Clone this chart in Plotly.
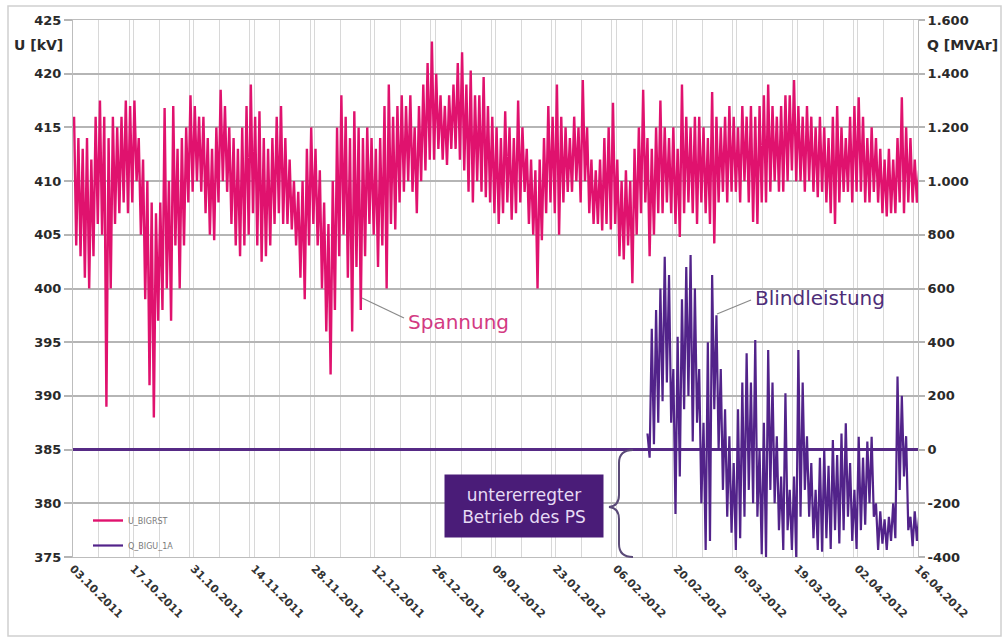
import pandas as pd
import plotly.graph_objects as go

# ---------------------------------------------------------------- data
START = "2011-10-03"
END = "2012-04-16"
SAMPLE_HOURS = [6, 18]          # time stamps of the daily high / daily low sample

# voltage U_BIGRST, daily high and daily low [kV], one entry per day from START
U_DAILY_MAX = [
    416, 414, 413, 414, 412, 416, 417.5, 416, 414,
    416, 415, 416, 417.5, 417, 417.5, 414,
    412, 410, 408, 407, 408, 416.8, 410, 417,
    413, 414, 415, 418, 417, 416, 416, 414, 413, 415, 418.5, 417, 415, 414, 413,
    415, 417, 419, 416, 416.5, 414, 413, 414, 416, 417, 414, 412, 410, 409, 410,
    413, 415, 413, 411, 408, 406, 410, 415, 418, 416, 414, 416.5, 415, 414, 415,
    414, 413, 414, 417, 419, 416, 417, 418, 417, 418,
    415, 417, 419, 421, 423, 420, 418, 417, 418, 419, 421, 422, 419, 420.3, 418,
    418, 419.7, 417, 416, 415, 414, 416.5, 415, 414, 417.5, 415, 413, 412, 411,
    412, 414, 417, 416, 419, 416, 415, 414, 416, 415,
    419.4, 415, 412, 411, 412, 414, 415, 417.3, 412, 410, 411, 410, 413, 415,
    418.5, 414, 413, 415, 417.5, 415, 414, 415, 413, 419, 416, 415, 416, 416,
    415, 414, 418.3, 416, 415, 416, 417, 416, 415, 417, 416,
    417, 416, 417, 418, 419, 417, 416, 417, 418, 418, 419.4, 417, 416, 417, 416,
    415, 416, 415, 414, 416, 417, 415, 414, 416, 417, 417.8, 416, 414, 415, 414,
    413, 412, 413, 412, 414, 417.8, 415, 414, 412, 411,
]
U_DAILY_MIN = [
    404, 403, 401, 400, 403, 406, 405, 389, 400,
    406, 407, 408, 407, 408, 410, 405,
    399, 391, 388, 397, 398, 400, 397, 404,
    400, 404, 408, 409, 410, 409, 407, 405, 404.5, 408, 410, 409, 406, 404, 403,
    404, 405, 407, 404, 402.5, 403, 404, 406, 407, 406, 406, 405.5, 404, 401, 399,
    404, 406, 404, 400, 396, 392, 398, 403, 405, 401, 396, 402, 398, 403, 406,
    405, 402, 404, 400, 406, 405.5, 408, 409, 410, 409,
    407, 410, 411, 412, 412, 413, 412, 411.5, 413, 413, 412, 411, 409, 408, 410,
    409, 408.5, 408, 407, 406, 407, 408, 406.4, 407, 408, 409, 406, 405, 400,
    404.5, 407, 408, 407, 405, 408, 409, 409, 410, 408,
    410, 407, 406, 406, 405.4, 406, 405.5, 406, 403, 402.7, 404, 400.5, 405, 407,
    408, 403, 405, 407, 407, 408, 407, 406, 404.8, 407, 408, 407, 406, 408,
    407, 406, 404.2, 408, 409, 408, 409, 409, 408, 410, 408,
    406.2, 406, 408, 408, 409, 410, 409, 409, 410, 411, 410, 410, 409, 410, 409,
    408.5, 409, 408, 407, 406, 408, 409, 409, 408, 409, 409, 408, 408, 409, 408,
    407, 406.7, 407, 407, 408, 407, 408, 408, 408, 408,
]

# reactive power Q_BIGU_1A, daily high and daily low [MVAr], from Q_FIRST_DAY
Q_FIRST_DAY = "2012-02-13"
Q_DAILY_MAX = [
    60, 450, 520, 600, 718, 650, 300, 420, 560, 680, 725, 600, 300, 100, 400, 650,
    500, 300, 150, 50, -50, 150, 250, 359, 250, 408, 0, 100, 371, 250, 50, -100,
    210, -150, -100, 371, 250, 50, -50, -150, -30, 0, -60, 36, -20, 60, 98, -50,
    -150, 48, -30, 30, 48, -200, -230, -260, -250, -200, 272, 200, 50, -250, -230, -250,
]
Q_DAILY_MIN = [
    -30, 20, 100, 180, 250, 100, -240, -100, 150, 200, 30, 100, -200, -374, -340, 150,
    0, -150, -250, -310, -374, -330, -250, -150, -200, -250, -390, -400, -150, -200, -300, -374,
    -300, -374, -400, -250, -150, -250, -330, -374, -380, -330, -370, -300, -350, -300, -250, -340,
    -370, -300, -280, -200, -250, -374, -350, -374, -340, -330, -150, -100, -300, -360, -340, -320,
]

U_TICKS = [375, 380, 385, 390, 395, 400, 405, 410, 415, 420, 425]
Q_TICKS = [-400, -200, 0, 200, 400, 600, 800, 1000, 1200, 1400, 1600]
Q_TICK_LABELS = ["-400", "-200", "0", "200", "400", "600", "800",
                 "1.000", "1.200", "1.400", "1.600"]

# ---------------------------------------------------------------- styling
MAGENTA = "#E0126E"
PURPLE = "#52238A"
W, H = 1003, 639
M_L, M_R, M_T, M_B = 73, 85, 20, 82
TICK_FONT = dict(family="DejaVu Sans", size=13, color="#2A2A2A", weight="bold")
TITLE_FONT = dict(family="DejaVu Sans", size=14, color="#2A2A2A", weight="bold")
LABEL_FONT = "DejaVu Sans"


def paper(px, py):
    """Pixel position in the page -> paper coordinates of the plot area."""
    pw, ph = W - M_L - M_R, H - M_T - M_B
    return (px - M_L) / pw, (H - M_B - py) / ph


def zigzag(first, highs, lows):
    """Alternate the daily high and low samples along a time axis."""
    base = pd.Timestamp(first)
    xs, ys = [], []
    for i, (hi, lo) in enumerate(zip(highs, lows)):
        day = base + pd.Timedelta(days=i)
        xs += [day + pd.Timedelta(hours=SAMPLE_HOURS[0]),
               day + pd.Timedelta(hours=SAMPLE_HOURS[1])]
        ys += [hi, lo]
    return xs, ys


ux, uy = zigzag(START, U_DAILY_MAX, U_DAILY_MIN)
qx, qy = zigzag(Q_FIRST_DAY, Q_DAILY_MAX, Q_DAILY_MIN)

fig = go.Figure()
fig.add_trace(go.Scatter(x=ux, y=uy, mode="lines", name="U_BIGRST",
                         line=dict(color=MAGENTA, width=2.4), legendgroup="u"))
fig.add_trace(go.Scatter(x=qx, y=qy, mode="lines", name="Q_BIGU_1A", yaxis="y2",
                         line=dict(color=PURPLE, width=2.2), legendgroup="q"))

DAY_MS = 86400000
fig.update_layout(
    width=W, height=H,
    margin=dict(l=M_L, r=M_R, t=M_T, b=M_B),
    paper_bgcolor="white", plot_bgcolor="white",
    font=dict(family="DejaVu Sans", color="#222"),
    xaxis=dict(
        type="date", range=[START, END],
        tick0=START, dtick=14 * DAY_MS, tickformat="%d.%m.%Y", tickangle=45,
        tickfont=dict(family="DejaVu Sans", size=11, color="#333", weight="bold"),
        showgrid=True, gridcolor="#D8D8D8", gridwidth=1.2,
        minor=dict(dtick=7 * DAY_MS, showgrid=True, gridcolor="#D8D8D8", gridwidth=1.2),
        showline=True, linecolor="#BDBDBD", mirror=True, zeroline=False,
    ),
    yaxis=dict(
        range=[375, 425], tickvals=U_TICKS, tickfont=TICK_FONT,
        showgrid=True, gridcolor="#B5B5B5", gridwidth=1.5,
        ticks="outside", ticklen=8, tickcolor="#B5B5B5", tickwidth=1.5,
        showline=True, linecolor="#BDBDBD", mirror=True, zeroline=False,
    ),
    yaxis2=dict(
        overlaying="y", side="right", range=[-400, 1600],
        tickvals=Q_TICKS, ticktext=Q_TICK_LABELS, tickfont=TICK_FONT,
        showgrid=False, ticks="outside", ticklen=6, tickcolor="#B5B5B5", tickwidth=1.5,
        zeroline=True, zerolinecolor="#562A85", zerolinewidth=2.5,
    ),
    showlegend=True,
    legend=dict(x=paper(88, 0)[0], y=paper(0, 506)[1], xanchor="left", yanchor="top",
                font=dict(size=8, color="#7A7A7A"), bgcolor="rgba(0,0,0,0)",
                tracegroupgap=6, itemwidth=30),
)


def note(text, px, py, **kw):
    x, y = paper(px, py)
    fig.add_annotation(text=text, x=x, y=y, xref="paper", yref="paper", showarrow=False,
                       xanchor="center", yanchor="middle", **kw)


# axis titles above the top tick labels
note("U [kV]", 38, 45, font=TITLE_FONT)
note("Q [MVAr]", 962, 45, font=TITLE_FONT)

# series call-outs with leader lines
note("Spannung", 458, 322, font=dict(size=20, color="#D33A82", family=LABEL_FONT))
note("Blindleistung", 820, 298, font=dict(size=20, color="#4E2E78", family=LABEL_FONT))
for (ax0, ay0), (ax1, ay1) in [((362, 298), (404, 318)), ((717, 314), (751, 300))]:
    x0, y0 = paper(ax0, ay0)
    x1, y1 = paper(ax1, ay1)
    fig.add_shape(type="line", xref="paper", yref="paper", x0=x0, y0=y0, x1=x1, y1=y1,
                  line=dict(color="#8A8A8A", width=1.2))

# under-excited operation box and brace
note("untererregter<br>Betrieb des PS", 524, 506, width=154, height=58, borderpad=2,
     bgcolor="#4A1C78", align="center",
     font=dict(size=17, color="#E6DAF4", family=LABEL_FONT))

brace_px = [("M", 633, 450), ("Q", 619, 450, 619, 463), ("L", 619, 495),
            ("Q", 619, 506, 609, 507), ("Q", 619, 508, 619, 519), ("L", 619, 544),
            ("Q", 619, 557, 633, 557)]
path = []
for seg in brace_px:
    cmd, pts = seg[0], seg[1:]
    coords = []
    for i in range(0, len(pts), 2):
        px_, py_ = paper(pts[i], pts[i + 1])
        coords.append(f"{px_:.5f},{py_:.5f}")
    path.append(cmd + " " + " ".join(coords))
fig.add_shape(type="path", xref="paper", yref="paper", path=" ".join(path),
              line=dict(color="#5A4A78", width=2))

# light frame around the whole graphic
fx0, fy0 = paper(8, 636)
fx1, fy1 = paper(1001, 6)
fig.add_shape(type="rect", xref="paper", yref="paper", x0=fx0, y0=fy0, x1=fx1, y1=fy1,
              line=dict(color="#D0D0D0", width=1.5), layer="below")

fig.write_html("out.html")
